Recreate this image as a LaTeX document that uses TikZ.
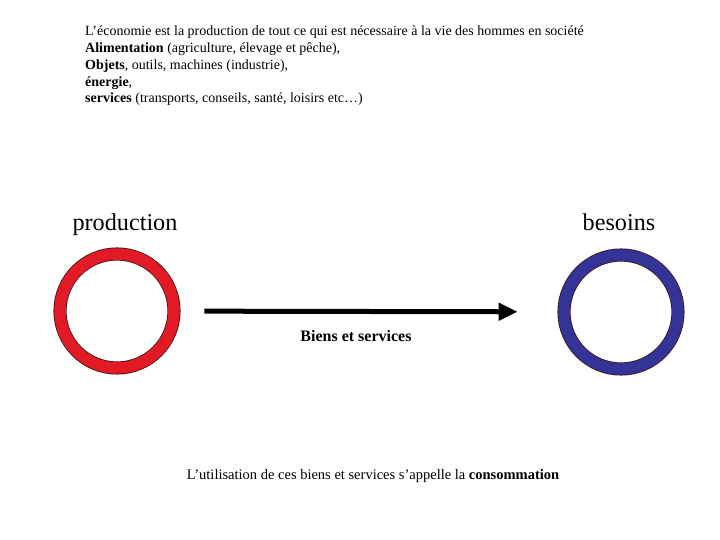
\documentclass[tikz,border=0pt]{standalone}
\usepackage{fontspec}
\setmainfont{Liberation Serif}
\usepackage{tikz}
\usetikzlibrary{arrows.meta}

\definecolor{ringred}{RGB}{226,26,38}
\definecolor{ringblue}{RGB}{52,52,150}
\definecolor{ringedge}{RGB}{60,20,20}

\begin{document}
\begin{tikzpicture}[x=1pt, y=-1pt,
    ring/.style={circle, minimum size=114pt, inner sep=0pt, draw=ringedge, line width=0.8pt, double distance=11.5pt},
    big/.style={font=\fontsize{24.2}{28}\selectfont}]
    \useasboundingbox (0,0) rectangle (720,540);

    \node[anchor=north west, align=left, inner sep=0pt,
          font=\fontsize{14}{16.7}\selectfont] (intro) at (85,26)
        {L’économie est la production de tout ce qui est nécessaire à la vie des hommes en société\\
         \textbf{Alimentation} (agriculture, élevage et pêche),\\
         \textbf{Objets}, outils, machines (industrie),\\
         \textbf{énergie},\\
         \textbf{services} (transports, conseils, santé, loisirs etc…)};

    \node[ring, double=ringred] (prod) at (117,311) {};
    \node[ring, double=ringblue] (bes) at (621,312) {};

    \node[big, anchor=base] (prodlabel) at (125,230) {production};
    \node[big, anchor=base] (beslabel) at (619,230) {besoins};

    \draw[line width=5pt, -{Triangle[length=19pt, width=17pt]},
          shorten <=30pt, shorten >=46pt] (prod) -- (bes)
        node[pos=0.5, below=13pt, xshift=-13pt, font=\fontsize{16}{18}\selectfont\bfseries] (flux) {Biens et services};

    \node[font=\fontsize{14.5}{17}\selectfont] (conso) at (373,476)
        {L’utilisation de ces biens et services s’appelle la \textbf{consommation}};
\end{tikzpicture}
\end{document}
